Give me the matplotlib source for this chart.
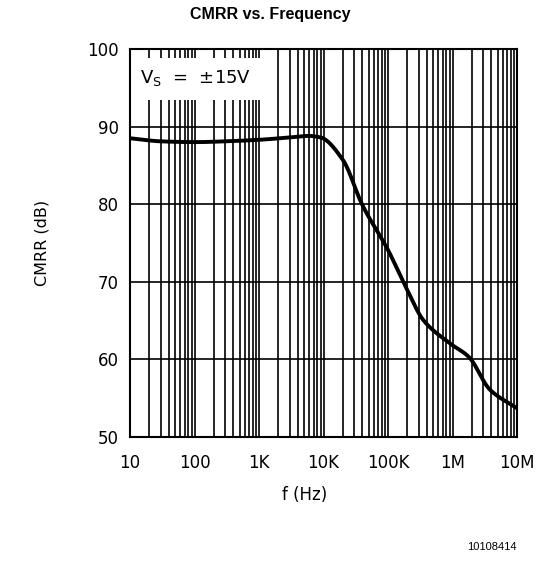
import matplotlib
matplotlib.use("Agg")
import matplotlib.pyplot as plt
from matplotlib.ticker import LogLocator, FixedLocator, FixedFormatter, NullFormatter
from matplotlib.patches import Rectangle
import numpy as np

freq_hz = [10, 30, 100, 300, 1e3, 3e3, 6e3, 9e3, 2e4, 4e4, 1e5, 2e5, 3.5e5, 9e5, 1.8e6, 3.8e6, 1e7]
cmrr_db = [88.5, 88.1, 88.0, 88.1, 88.3, 88.6, 88.8, 88.6, 85.7, 79.9, 74.1, 68.9, 65.1, 62.1, 60.3, 56.1, 53.7]

xticks = [10, 100, 1e3, 1e4, 1e5, 1e6, 1e7]
xticklabels = ["10", "100", "1K", "10K", "100K", "1M", "10M"]
yticks = [50, 60, 70, 80, 90, 100]

W, H = 556, 571
fig = plt.figure(figsize=(W/100, H/100), dpi=100)
ax = fig.add_axes([130/W, 1-437/H, (517-130)/W, (437-49)/H])

def pchip(x, y, xn):
    x = np.asarray(x); y = np.asarray(y, dtype=float)
    h = np.diff(x); d = np.diff(y)/h
    m = np.zeros_like(y)
    for k in range(1, len(y)-1):
        if d[k-1]*d[k] <= 0:
            m[k] = 0
        else:
            w1 = 2*h[k]+h[k-1]; w2 = h[k]+2*h[k-1]
            m[k] = (w1+w2)/(w1/d[k-1]+w2/d[k])
    m[0] = d[0]; m[-1] = d[-1]
    out = np.empty_like(xn)
    for i, xv in enumerate(xn):
        k = min(np.searchsorted(x, xv)-1, len(x)-2); k = max(k, 0)
        t = (xv-x[k])/h[k]
        h00 = 2*t**3-3*t**2+1; h10 = t**3-2*t**2+t
        h01 = -2*t**3+3*t**2; h11 = t**3-t**2
        out[i] = h00*y[k]+h10*h[k]*m[k]+h01*y[k+1]+h11*h[k]*m[k+1]
    return out

lx = np.log10(freq_hz)
xs = np.linspace(lx[0], lx[-1], 600)
ys = pchip(lx, cmrr_db, xs)

ax.set_xscale("log")
ax.set_xlim(10, 1e7)
ax.set_ylim(50, 100)
ax.xaxis.set_major_locator(FixedLocator(xticks))
ax.xaxis.set_major_formatter(FixedFormatter(xticklabels))
ax.xaxis.set_minor_locator(LogLocator(base=10, subs=np.arange(2, 10)))
ax.xaxis.set_minor_formatter(NullFormatter())
ax.set_yticks(yticks)
ax.grid(True, which="both", axis="x", color="black", lw=1.2)
ax.grid(True, which="major", axis="y", color="black", lw=1.2)
ax.tick_params(which="both", length=0, labelsize=12)
ax.tick_params(axis="x", pad=12)
ax.tick_params(axis="y", pad=8)
for s in ax.spines.values():
    s.set_linewidth(1.5)

ax.plot(10**xs, ys, color="black", lw=2.8, zorder=3, solid_capstyle="butt")

# legend box
ax.add_patch(Rectangle((0.008, 0.869), 0.346, 0.108, transform=ax.transAxes,
                       facecolor="white", edgecolor="none", zorder=2.5))
ax.text(0.026, 0.926, r"V$_\mathrm{S}$  =  $\pm$15V", transform=ax.transAxes,
        fontsize=13, va="center", ha="left", zorder=4)

fig.text(270/W, 1-14/H, "CMRR vs. Frequency", ha="center", va="center",
         fontsize=11.5, fontweight="bold", family="Liberation Sans")
fig.text(42/W, 1-243/H, "CMRR (dB)", rotation=90, ha="center", va="center", fontsize=11.5)
fig.text(305/W, 1-495/H, "f (Hz)", ha="center", va="center", fontsize=12)
fig.text(517/W, 1-547/H, "10108414", ha="right", va="center", fontsize=8,
         family="Liberation Sans")

fig.savefig("out.png", dpi=100)
